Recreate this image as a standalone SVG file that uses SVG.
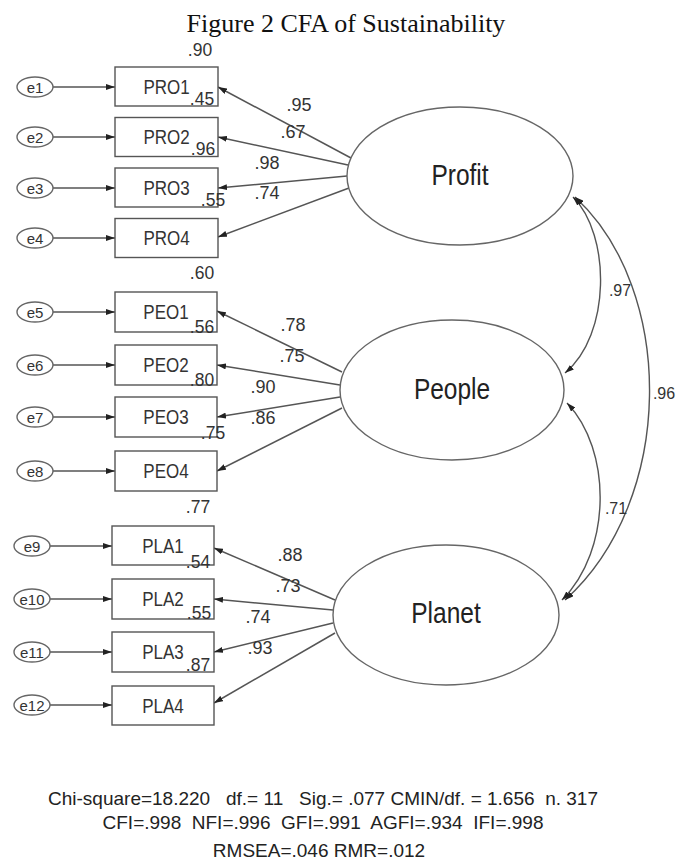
<svg xmlns="http://www.w3.org/2000/svg" width="678" height="861" viewBox="0 0 678 861">
<style>
text{font-family:"Liberation Sans",Arial,sans-serif;fill:#333}
.title{font-family:"Liberation Serif","Times New Roman",serif;font-size:26px;fill:#111;text-anchor:middle}
.box{fill:#fff;stroke:#555;stroke-width:1.4}
.err{fill:#fff;stroke:#666;stroke-width:1.4}
.lat{fill:#fff;stroke:#666;stroke-width:1.4}
.ind{font-size:17px;text-anchor:middle}
.el{font-size:15px;text-anchor:middle}
.ll{font-size:24.5px;text-anchor:middle;fill:#222}
.num{font-size:17.5px;text-anchor:middle}
.ld{font-size:18px;text-anchor:middle}
.cv{font-size:16px;text-anchor:middle}
.fit{font-size:19px;text-anchor:middle;fill:#222;white-space:pre}
.ln{stroke:#555;stroke-width:1.5;fill:none;marker-end:url(#ah)}
.arc{stroke:#555;stroke-width:1.4;fill:none;marker-end:url(#ah);marker-start:url(#ah)}
</style>
<defs>
<marker id="ah" markerUnits="userSpaceOnUse" markerWidth="9" markerHeight="6" refX="9" refY="3" orient="auto-start-reverse">
<path d="M0,0 L9,3 L0,6 z" fill="#222"/>
</marker>
</defs>

<text class="title" x="346" y="32">Figure 2 CFA of Sustainability</text>

<g id="connectors">
<!-- error to indicator -->
<line class="ln" x1="53" y1="87" x2="115" y2="87"/>
<line class="ln" x1="53" y1="137" x2="115" y2="137"/>
<line class="ln" x1="53" y1="188" x2="115" y2="188"/>
<line class="ln" x1="53" y1="238" x2="115" y2="238"/>
<line class="ln" x1="53" y1="312" x2="115" y2="312"/>
<line class="ln" x1="53" y1="365" x2="115" y2="365"/>
<line class="ln" x1="53" y1="417" x2="115" y2="417"/>
<line class="ln" x1="53" y1="471" x2="115" y2="471"/>
<line class="ln" x1="50" y1="546" x2="112" y2="546"/>
<line class="ln" x1="50" y1="599" x2="112" y2="599"/>
<line class="ln" x1="50" y1="652" x2="112" y2="652"/>
<line class="ln" x1="50" y1="705" x2="112" y2="705"/>
<!-- loadings -->
<line class="ln" x1="351" y1="158" x2="218" y2="87"/>
<line class="ln" x1="348" y1="165" x2="218" y2="137"/>
<line class="ln" x1="347" y1="176" x2="218" y2="188"/>
<line class="ln" x1="349" y1="188" x2="218" y2="237"/>
<line class="ln" x1="342" y1="372" x2="217" y2="311"/>
<line class="ln" x1="340" y1="385" x2="217" y2="365"/>
<line class="ln" x1="340" y1="397" x2="217" y2="417"/>
<line class="ln" x1="342" y1="408" x2="217" y2="471"/>
<line class="ln" x1="335" y1="600" x2="214" y2="548"/>
<line class="ln" x1="333" y1="610" x2="214" y2="599"/>
<line class="ln" x1="333" y1="623" x2="214" y2="652"/>
<line class="ln" x1="335" y1="633" x2="214" y2="703"/>
<!-- covariances -->
<path class="arc" d="M573,197 C611,235 611,335 565,373"/>
<path class="arc" d="M567,403 C612,450 612,550 562,600"/>
<path class="arc" d="M575,197 C676,290 676,500 565,600"/>
</g>

<g id="e1"><ellipse class="err" cx="35" cy="87" rx="18" ry="10"/><text class="el" x="35" y="92.5">e1</text></g>
<g id="e2"><ellipse class="err" cx="35" cy="137" rx="18" ry="10"/><text class="el" x="35" y="142.5">e2</text></g>
<g id="e3"><ellipse class="err" cx="35" cy="188" rx="18" ry="10"/><text class="el" x="35" y="193.5">e3</text></g>
<g id="e4"><ellipse class="err" cx="35" cy="238" rx="18" ry="10"/><text class="el" x="35" y="243.5">e4</text></g>
<g id="e5"><ellipse class="err" cx="35" cy="312" rx="18" ry="10"/><text class="el" x="35" y="317.5">e5</text></g>
<g id="e6"><ellipse class="err" cx="35" cy="365" rx="18" ry="10"/><text class="el" x="35" y="370.5">e6</text></g>
<g id="e7"><ellipse class="err" cx="35" cy="417" rx="18" ry="10"/><text class="el" x="35" y="422.5">e7</text></g>
<g id="e8"><ellipse class="err" cx="35" cy="471" rx="18" ry="10"/><text class="el" x="35" y="476.5">e8</text></g>
<g id="e9"><ellipse class="err" cx="32" cy="546" rx="18" ry="10"/><text class="el" x="32" y="551.5">e9</text></g>
<g id="e10"><ellipse class="err" cx="32" cy="599" rx="18" ry="10"/><text class="el" x="32" y="604.5">e10</text></g>
<g id="e11"><ellipse class="err" cx="32" cy="652" rx="18" ry="10"/><text class="el" x="32" y="657.5">e11</text></g>
<g id="e12"><ellipse class="err" cx="32" cy="705" rx="18" ry="10"/><text class="el" x="32" y="710.5">e12</text></g>

<g id="PRO1"><rect class="box" x="115" y="67" width="103" height="39"/><text class="ind" transform="translate(166.5 94) scale(1 1.15)">PRO1</text></g>
<g id="PRO2"><rect class="box" x="115" y="117.5" width="103" height="39"/><text class="ind" transform="translate(166.5 144) scale(1 1.15)">PRO2</text></g>
<g id="PRO3"><rect class="box" x="115" y="168" width="103" height="39"/><text class="ind" transform="translate(166.5 195) scale(1 1.15)">PRO3</text></g>
<g id="PRO4"><rect class="box" x="115" y="218.5" width="103" height="39"/><text class="ind" transform="translate(166.5 245) scale(1 1.15)">PRO4</text></g>
<g id="PEO1"><rect class="box" x="115" y="292" width="102" height="40"/><text class="ind" transform="translate(166 319) scale(1 1.15)">PEO1</text></g>
<g id="PEO2"><rect class="box" x="115" y="345" width="102" height="40"/><text class="ind" transform="translate(166 372) scale(1 1.15)">PEO2</text></g>
<g id="PEO3"><rect class="box" x="115" y="397" width="102" height="40"/><text class="ind" transform="translate(166 424) scale(1 1.15)">PEO3</text></g>
<g id="PEO4"><rect class="box" x="115" y="451" width="102" height="40"/><text class="ind" transform="translate(166 478) scale(1 1.15)">PEO4</text></g>
<g id="PLA1"><rect class="box" x="112" y="526" width="102" height="39"/><text class="ind" transform="translate(163 553) scale(1 1.15)">PLA1</text></g>
<g id="PLA2"><rect class="box" x="112" y="579" width="102" height="40"/><text class="ind" transform="translate(163 606) scale(1 1.15)">PLA2</text></g>
<g id="PLA3"><rect class="box" x="112" y="632" width="102" height="40"/><text class="ind" transform="translate(163 659) scale(1 1.15)">PLA3</text></g>
<g id="PLA4"><rect class="box" x="112" y="686" width="102" height="39"/><text class="ind" transform="translate(163 713) scale(1 1.15)">PLA4</text></g>

<g id="Profit"><ellipse class="lat" cx="460" cy="176" rx="113" ry="69"/><text class="ll" transform="translate(460 184.5) scale(1 1.2)">Profit</text></g>
<g id="People"><ellipse class="lat" cx="452" cy="390" rx="112" ry="70"/><text class="ll" transform="translate(452 399) scale(1 1.2)">People</text></g>
<g id="Planet"><ellipse class="lat" cx="446" cy="615" rx="113" ry="70"/><text class="ll" transform="translate(446 623) scale(1 1.2)">Planet</text></g>

<g id="r2-labels">
<text class="num" x="200" y="56">.90</text>
<text class="num" x="202" y="105">.45</text>
<text class="num" x="203" y="155">.96</text>
<text class="num" x="213" y="206">.55</text>
<text class="num" x="202" y="279">.60</text>
<text class="num" x="202" y="333">.56</text>
<text class="num" x="202" y="386">.80</text>
<text class="num" x="213" y="439">.75</text>
<text class="num" x="198" y="513">.77</text>
<text class="num" x="198" y="568">.54</text>
<text class="num" x="199" y="619">.55</text>
<text class="num" x="198" y="671">.87</text>
</g>

<g id="loading-labels">
<text class="ld" x="299" y="111">.95</text>
<text class="ld" x="293" y="138">.67</text>
<text class="ld" x="267" y="169">.98</text>
<text class="ld" x="267" y="199">.74</text>
<text class="ld" x="293" y="331">.78</text>
<text class="ld" x="292" y="362">.75</text>
<text class="ld" x="263" y="393">.90</text>
<text class="ld" x="263" y="424">.86</text>
<text class="ld" x="290" y="561">.88</text>
<text class="ld" x="288" y="592">.73</text>
<text class="ld" x="258" y="623">.74</text>
<text class="ld" x="260" y="654">.93</text>
</g>

<g id="cov-labels">
<text class="cv" x="620" y="296">.97</text>
<text class="cv" x="664" y="399">.96</text>
<text class="cv" x="616" y="514">.71</text>
</g>

<g id="fit">
<text class="fit" x="323" y="805">Chi-square=18.220   df.= 11   Sig.= .077 CMIN/df. = 1.656  n. 317</text>
<text class="fit" x="323" y="829">CFI=.998  NFI=.996  GFI=.991  AGFI=.934  IFI=.998</text>
<text class="fit" x="319" y="857">RMSEA=.046 RMR=.012</text>
</g>
</svg>
